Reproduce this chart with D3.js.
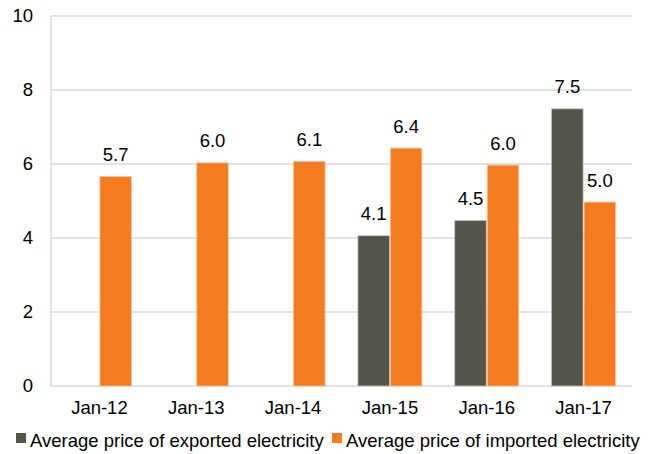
<!DOCTYPE html>
<html><head><meta charset="utf-8">
<script src="https://cdn.jsdelivr.net/npm/d3@7"></script>
<style>body{margin:0;background:#fff}svg{display:block;font-family:"Liberation Sans",Arial,sans-serif}</style>
</head><body><svg id="c" width="658" height="454"></svg>
<script>
const categories = ["Jan-12","Jan-13","Jan-14","Jan-15","Jan-16","Jan-17"];
const exported = [null, null, null, 4.06, 4.47, 7.49];
const imported = [5.66, 6.03, 6.07, 6.43, 5.97, 4.97];
const seriesNames = ["Average price of exported electricity","Average price of imported electricity"];
const yTicks = [0,2,4,6,8,10];
const colors = ["#55544b","#f47b20"];

const FS = 18.5;
const svg = d3.select("#c");
const m = {l:51, r:26, t:16, b:68};
const W = 658, H = 454;
const x = d3.scaleBand().domain(categories).range([m.l, W-m.r]).paddingInner(0).paddingOuter(0);
const y = d3.scaleLinear().domain([0,10]).range([H-m.b, m.t]);
const barW = 31.5, gap = 1;

// gridlines
svg.append("g").selectAll("line").data(yTicks).join("line")
  .attr("x1", m.l).attr("x2", W-m.r).attr("y1", d=>y(d)).attr("y2", d=>y(d))
  .attr("stroke", "#d9d9d9").attr("stroke-width", 1.5);
svg.append("line").attr("x1", m.l).attr("x2", m.l).attr("y1", m.t).attr("y2", y(0))
  .attr("stroke", "#d9d9d9").attr("stroke-width", 1.5);

// y axis labels
const yAxis = d3.axisLeft(y).tickValues(yTicks).tickSize(0).tickPadding(18).tickFormat(d3.format("d"));
const ga = svg.append("g").attr("transform", `translate(${m.l},0)`).call(yAxis);
ga.select(".domain").remove();
ga.selectAll("text").attr("font-size", FS).attr("fill", "#000").attr("font-family", "Liberation Sans, Arial, sans-serif");

// x axis labels
const xAxis = d3.axisBottom(x).tickSize(0).tickPadding(15);
const gx = svg.append("g").attr("transform", `translate(0,${y(0)})`).call(xAxis);
gx.select(".domain").remove();
gx.selectAll("text").attr("font-size", FS).attr("fill", "#000").attr("font-family", "Liberation Sans, Arial, sans-serif");

const data = [exported, imported];
data.forEach((vals, si) => {
  const items = categories.map((c,i)=>({c, v: vals[i]})).filter(d=>d.v!=null);
  const xpos = d => x(d.c) + x.bandwidth()/2 + (si===0 ? -barW - gap/2 : gap/2);
  svg.append("g").selectAll("rect").data(items).join("rect")
    .attr("x", xpos).attr("width", barW)
    .attr("y", d=>y(d.v)).attr("height", d=>y(0)-y(d.v))
    .attr("fill", colors[si])
    .attr("stroke", si===0 ? "#bdbdb8" : "#f9c39a").attr("stroke-width", 0.8);
  svg.append("g").selectAll("text").data(items).join("text")
    .attr("x", d=>xpos(d)+barW/2).attr("y", d=>y(d.v)-15.5)
    .attr("text-anchor","middle").attr("font-size",FS).attr("fill","#000")
    .text(d=>d3.format(".1f")(d.v));
});

// legend
const leg = svg.append("g").attr("transform", "translate(0,438)");
const lx = [16, 332];
seriesNames.forEach((n,i)=>{
  leg.append("rect").attr("x", lx[i]).attr("y", -5).attr("width", 10).attr("height", 10).attr("fill", colors[i]);
  leg.append("text").attr("x", lx[i]+14).attr("y", 8.7).attr("font-size", FS).attr("fill","#000").text(n);
});
</script></body></html>
